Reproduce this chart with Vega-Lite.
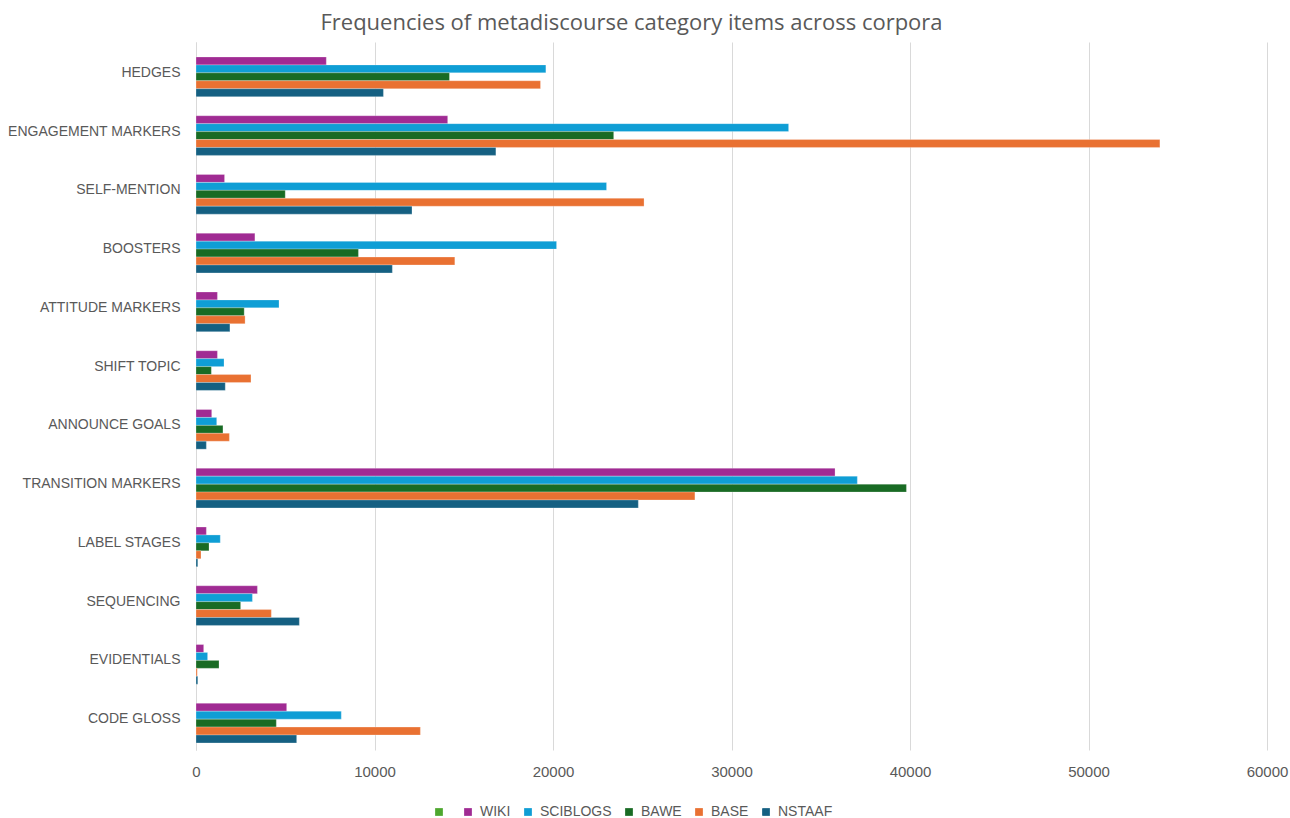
{
  "$schema": "https://vega.github.io/schema/vega-lite/v6.json",
  "autosize": "none",
  "width": 1071,
  "height": 708,
  "padding": {"left": 196, "top": 42, "right": 23, "bottom": 68},
  "background": "#ffffff",
  "view": {"stroke": null},
  "title": {
    "text": "Frequencies of metadiscourse category items across corpora",
    "font": "Open Sans",
    "fontSize": 22,
    "fontWeight": "normal",
    "color": "#595959",
    "anchor": "middle",
    "dx": -100,
    "offset": 7
  },
  "data": {
    "values": [
      {"category": "HEDGES", "series": "WIKI", "value": 7300},
      {"category": "HEDGES", "series": "SCIBLOGS", "value": 19600},
      {"category": "HEDGES", "series": "BAWE", "value": 14200},
      {"category": "HEDGES", "series": "BASE", "value": 19300},
      {"category": "HEDGES", "series": "NSTAAF", "value": 10500},
      {"category": "ENGAGEMENT MARKERS", "series": "WIKI", "value": 14100},
      {"category": "ENGAGEMENT MARKERS", "series": "SCIBLOGS", "value": 33200},
      {"category": "ENGAGEMENT MARKERS", "series": "BAWE", "value": 23400},
      {"category": "ENGAGEMENT MARKERS", "series": "BASE", "value": 54000},
      {"category": "ENGAGEMENT MARKERS", "series": "NSTAAF", "value": 16800},
      {"category": "SELF-MENTION", "series": "WIKI", "value": 1600},
      {"category": "SELF-MENTION", "series": "SCIBLOGS", "value": 23000},
      {"category": "SELF-MENTION", "series": "BAWE", "value": 5000},
      {"category": "SELF-MENTION", "series": "BASE", "value": 25100},
      {"category": "SELF-MENTION", "series": "NSTAAF", "value": 12100},
      {"category": "BOOSTERS", "series": "WIKI", "value": 3300},
      {"category": "BOOSTERS", "series": "SCIBLOGS", "value": 20200},
      {"category": "BOOSTERS", "series": "BAWE", "value": 9100},
      {"category": "BOOSTERS", "series": "BASE", "value": 14500},
      {"category": "BOOSTERS", "series": "NSTAAF", "value": 11000},
      {"category": "ATTITUDE MARKERS", "series": "WIKI", "value": 1200},
      {"category": "ATTITUDE MARKERS", "series": "SCIBLOGS", "value": 4650},
      {"category": "ATTITUDE MARKERS", "series": "BAWE", "value": 2700},
      {"category": "ATTITUDE MARKERS", "series": "BASE", "value": 2750},
      {"category": "ATTITUDE MARKERS", "series": "NSTAAF", "value": 1900},
      {"category": "SHIFT TOPIC", "series": "WIKI", "value": 1200},
      {"category": "SHIFT TOPIC", "series": "SCIBLOGS", "value": 1570},
      {"category": "SHIFT TOPIC", "series": "BAWE", "value": 860},
      {"category": "SHIFT TOPIC", "series": "BASE", "value": 3080},
      {"category": "SHIFT TOPIC", "series": "NSTAAF", "value": 1640},
      {"category": "ANNOUNCE GOALS", "series": "WIKI", "value": 880},
      {"category": "ANNOUNCE GOALS", "series": "SCIBLOGS", "value": 1160},
      {"category": "ANNOUNCE GOALS", "series": "BAWE", "value": 1510},
      {"category": "ANNOUNCE GOALS", "series": "BASE", "value": 1870},
      {"category": "ANNOUNCE GOALS", "series": "NSTAAF", "value": 580},
      {"category": "TRANSITION MARKERS", "series": "WIKI", "value": 35800},
      {"category": "TRANSITION MARKERS", "series": "SCIBLOGS", "value": 37050},
      {"category": "TRANSITION MARKERS", "series": "BAWE", "value": 39800},
      {"category": "TRANSITION MARKERS", "series": "BASE", "value": 27950},
      {"category": "TRANSITION MARKERS", "series": "NSTAAF", "value": 24780},
      {"category": "LABEL STAGES", "series": "WIKI", "value": 580},
      {"category": "LABEL STAGES", "series": "SCIBLOGS", "value": 1360},
      {"category": "LABEL STAGES", "series": "BAWE", "value": 730},
      {"category": "LABEL STAGES", "series": "BASE", "value": 280},
      {"category": "LABEL STAGES", "series": "NSTAAF", "value": 100},
      {"category": "SEQUENCING", "series": "WIKI", "value": 3440},
      {"category": "SEQUENCING", "series": "SCIBLOGS", "value": 3160},
      {"category": "SEQUENCING", "series": "BAWE", "value": 2500},
      {"category": "SEQUENCING", "series": "BASE", "value": 4220},
      {"category": "SEQUENCING", "series": "NSTAAF", "value": 5790},
      {"category": "EVIDENTIALS", "series": "WIKI", "value": 430},
      {"category": "EVIDENTIALS", "series": "SCIBLOGS", "value": 650},
      {"category": "EVIDENTIALS", "series": "BAWE", "value": 1290},
      {"category": "EVIDENTIALS", "series": "BASE", "value": 70},
      {"category": "EVIDENTIALS", "series": "NSTAAF", "value": 100},
      {"category": "CODE GLOSS", "series": "WIKI", "value": 5080},
      {"category": "CODE GLOSS", "series": "SCIBLOGS", "value": 8140},
      {"category": "CODE GLOSS", "series": "BAWE", "value": 4500},
      {"category": "CODE GLOSS", "series": "BASE", "value": 12570},
      {"category": "CODE GLOSS", "series": "NSTAAF", "value": 5640}
    ]
  },
  "mark": {"type": "bar", "stroke": "#ffffff", "strokeWidth": 0.5, "strokeOpacity": 0.5},
  "encoding": {
    "y": {
      "field": "category",
      "type": "nominal",
      "sort": null,
      "scale": {"paddingInner": 0.19, "paddingOuter": 0.12},
      "axis": {
        "title": null,
        "ticks": false,
        "domain": true,
        "domainColor": "#d9d9d9",
        "domainWidth": 1,
        "labelFont": "Liberation Sans",
        "labelFontSize": 14,
        "labelColor": "#595959",
        "labelPadding": 16,
        "labelLimit": 300
      }
    },
    "yOffset": {
      "field": "series",
      "type": "nominal",
      "scale": {"domain": ["", "WIKI", "SCIBLOGS", "BAWE", "BASE", "NSTAAF"], "paddingInner": 0, "paddingOuter": 0}
    },
    "x": {
      "field": "value",
      "type": "quantitative",
      "scale": {"domain": [0, 60000], "nice": false},
      "axis": {
        "title": null,
        "values": [0, 10000, 20000, 30000, 40000, 50000, 60000],
        "format": "d",
        "domain": false,
        "ticks": false,
        "grid": true,
        "gridColor": "#d9d9d9",
        "gridWidth": 1,
        "labelFlush": false,
        "labelFont": "Liberation Sans",
        "labelFontSize": 15,
        "labelColor": "#595959",
        "labelPadding": 14
      }
    },
    "color": {
      "field": "series",
      "type": "nominal",
      "scale": {
        "domain": ["", "WIKI", "SCIBLOGS", "BAWE", "BASE", "NSTAAF"],
        "range": ["#4EA72E", "#A02B93", "#0F9ED5", "#196B24", "#E97132", "#156082"]
      },
      "legend": {
        "title": null,
        "orient": "none",
        "direction": "horizontal",
        "legendX": 236,
        "legendY": 763,
        "symbolType": "square",
        "symbolSize": 60,
        "symbolStrokeWidth": 0,
        "labelFont": "Liberation Sans",
        "labelFontSize": 14,
        "labelColor": "#595959",
        "labelOffset": 5,
        "columnPadding": 10
      }
    }
  }
}
